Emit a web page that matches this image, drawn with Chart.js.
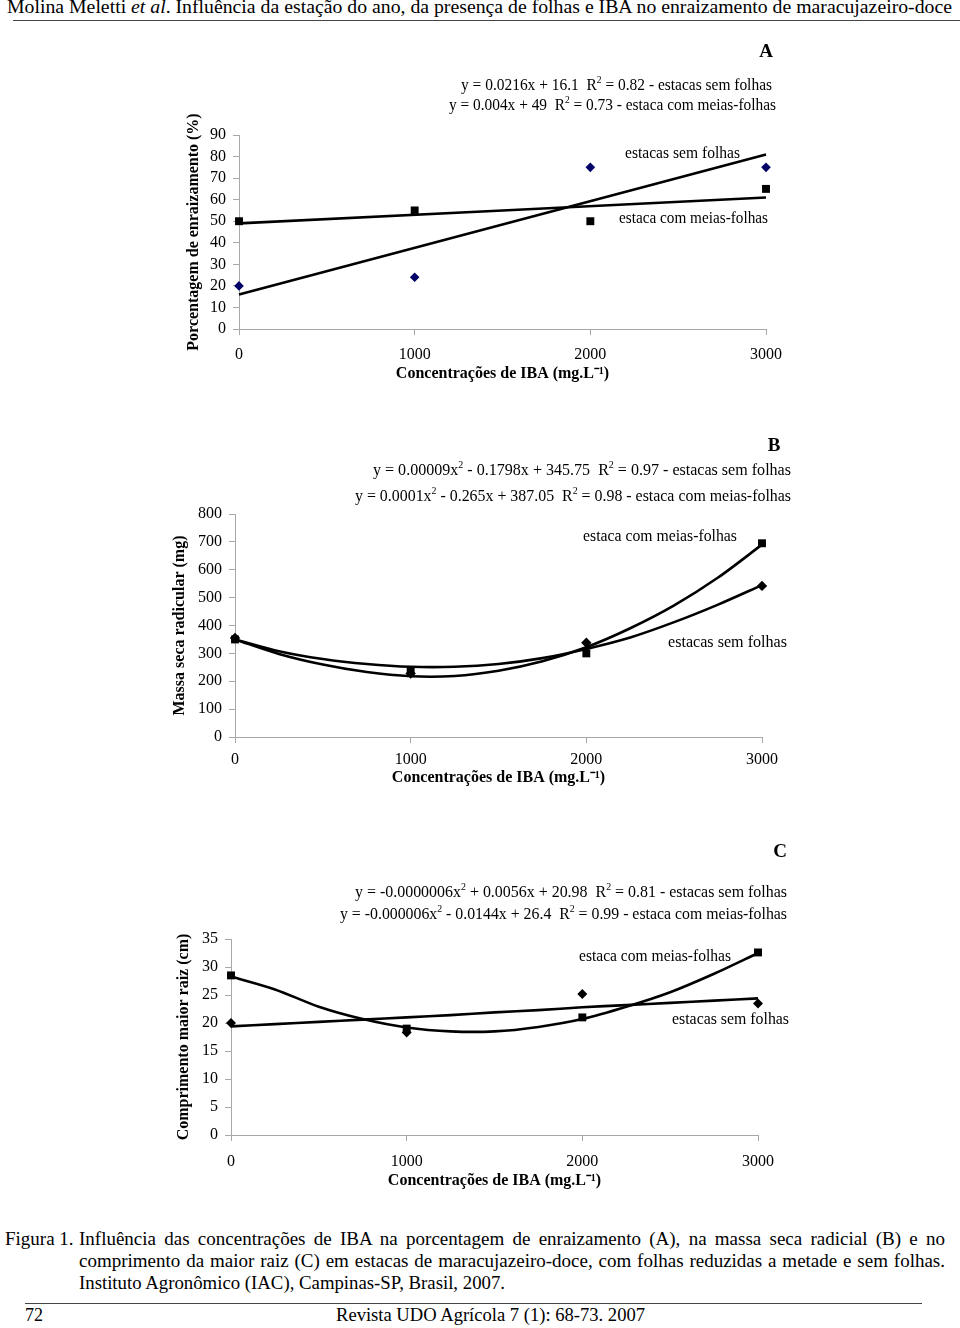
<!DOCTYPE html>
<html lang="pt">
<head>
<meta charset="utf-8">
<title>Figura 1</title>
<script src="https://cdn.jsdelivr.net/npm/chart.js@4.4.1/dist/chart.umd.min.js"></script>
<style>
  body { margin: 0; width: 960px; height: 1328px; background: #fff; position: relative; overflow: hidden;
         font-family: "Liberation Serif", "Times New Roman", serif; color: #000; }
  .txt { position: absolute; white-space: nowrap; line-height: 1; transform-origin: 0 0; }
  .just { position: absolute; line-height: 1; text-align: justify; text-align-last: justify; white-space: nowrap; }
  .linha { position: absolute; height: 0; border-top: 1px solid #444; }
  canvas { position: absolute; left: 0; }
</style>
</head>
<body>
<div class="txt" data-w="945" style="left:7px; top:-2px; font-size:18px;">Molina Meletti <i>et al</i>. Influência da estação do ano, da presença de folhas e IBA no enraizamento de maracujazeiro-doce</div>
<div class="linha" style="left:13px; width:947px; top:20px;"></div>

<canvas id="graficoA" width="960" height="370" style="top:30px;"></canvas>
<canvas id="graficoB" width="960" height="380" style="top:420px;"></canvas>
<canvas id="graficoC" width="960" height="370" style="top:830px;"></canvas>

<div class="txt" style="left:5px; top:1229px; font-size:19px;">Figura 1.</div>
<div class="just" style="left:79px; width:866px; top:1229px; font-size:19px;">Influência das concentrações de IBA na porcentagem de enraizamento (A), na massa seca radicial (B) e no</div>
<div class="just" style="left:79px; width:866px; top:1251px; font-size:19px;">comprimento da maior raiz (C) em estacas de maracujazeiro-doce, com folhas reduzidas a metade e sem folhas.</div>
<div class="txt" data-w="426" style="left:79px; top:1273px; font-size:19px;">Instituto Agronômico (IAC), Campinas-SP, Brasil, 2007.</div>
<div class="linha" style="left:25px; width:897px; top:1303px;"></div>
<div class="txt" style="left:25px; top:1306px; font-size:18px;">72</div>
<div class="txt" data-w="309" style="left:336px; top:1306px; font-size:18px;">Revista UDO Agrícola 7 (1): 68-73. 2007</div>

<script>
// concentracoes de IBA (mg.L-1)
const concentracoes = [0, 1000, 2000, 3000];
const ticksX = [0, 1000, 2000, 3000];

// A - porcentagem de enraizamento (%)
const enraizSemFolhas = [20, 24, 75, 75];
const enraizMeiasFolhas = [50, 55, 50, 65];
const tendXLinear = [0, 3000];
const tendEnraizSem = [16, 81];
const tendEnraizMeias = [49, 61];

// B - massa seca radicular (mg)
const massaSemFolhas = [355, 228, 338, 542];
const massaMeiasFolhas = [350, 240, 300, 695];
const tendXCurva = [0, 250, 500, 750, 1000, 1250, 1500, 1750, 2000, 2250, 2500, 2750, 3000];
const tendMassaSem = [350, 308, 280, 262, 252, 252, 262, 283, 316, 357, 412, 475, 545];
const tendMassaMeias = [350, 298, 260, 233, 218, 219, 238, 272, 322, 390, 472, 572, 690];

// C - comprimento da maior raiz (cm)
const comprSemFolhas = [20, 18.3, 25.2, 23.5];
const comprMeiasFolhas = [28.5, 19, 21, 32.6];
const tendComprSem = [19.4, 19.8, 20.2, 20.6, 21.0, 21.4, 21.9, 22.3, 22.8, 23.2, 23.6, 24.0, 24.4];
const tendComprMeias = [28.3, 26.0, 22.9, 20.7, 19.2, 18.5, 18.5, 19.3, 20.7, 22.9, 25.5, 28.8, 32.5];

// ajusta largura dos textos da pagina
document.querySelectorAll('[data-w]').forEach(el => {
  const w = el.getBoundingClientRect().width;
  el.style.transform = 'scaleX(' + (el.dataset.w / w) + ')';
});

const fonteSerif = '"Liberation Serif", "Times New Roman", serif';
Chart.defaults.font.family = fonteSerif;
Chart.defaults.color = '#000';

function pares(xs, ys) {
  return xs.map((x, i) => ({ x: x, y: ys[i] }));
}

// textos soltos (equacoes, rotulos das curvas, letra do painel)
function anotacoes(itens) {
  return {
    id: 'anotacoes',
    afterDraw(chart) {
      const ctx = chart.ctx;
      itens.forEach(it => {
        const fonte = (sup) => (it.negrito ? 'bold ' : '') + (sup ? it.tam * 0.62 : it.tam) + 'px ' + fonteSerif;
        let total = 0;
        it.partes.forEach(p => {
          const sup = Array.isArray(p);
          ctx.font = fonte(sup);
          total += ctx.measureText(sup ? p[0] : p).width;
        });
        const sx = it.largura ? it.largura / total : 1;
        let x0 = it.x;
        if (it.alinhar === 'right') x0 -= total * sx;
        if (it.alinhar === 'center') x0 -= total * sx / 2;
        ctx.save();
        ctx.fillStyle = '#000';
        ctx.textBaseline = 'middle';
        ctx.textAlign = 'left';
        ctx.translate(x0, it.y);
        ctx.scale(sx, 1);
        let x = 0;
        it.partes.forEach(p => {
          const sup = Array.isArray(p);
          const t = sup ? p[0] : p;
          ctx.font = fonte(sup);
          ctx.fillText(t, x, sup ? -it.tam * 0.32 : 0);
          x += ctx.measureText(t).width;
        });
        ctx.restore();
      });
    }
  };
}

function eixoCinza() {
  return {
    grid: { drawOnChartArea: false, drawTicks: true, tickLength: 6, color: '#a8a8a8', lineWidth: 1 },
    border: { color: '#a8a8a8', width: 1 }
  };
}

function opcoes(cfg) {
  return {
    responsive: false,
    animation: false,
    layout: { padding: { left: cfg.padLeft, right: cfg.padRight, top: cfg.padTop, bottom: 0 } },
    plugins: { legend: { display: false }, tooltip: { enabled: false } },
    scales: {
      x: Object.assign(eixoCinza(), {
        type: 'linear', min: 0, max: 3000,
        afterBuildTicks: s => { s.ticks = ticksX.map(v => ({ value: v })); },
        afterFit: s => { s.height = cfg.alturaX; },
        ticks: { padding: cfg.padTickX, autoSkip: false, maxRotation: 0, font: { size: 16 }, color: '#000',
                 callback: v => String(v) },
        title: { display: true, text: 'Concentrações de IBA (mg.L⁻¹)', font: { size: 16, weight: 'bold' },
                 color: '#000', padding: { top: 0, bottom: cfg.padTituloX } }
      }),
      y: Object.assign(eixoCinza(), {
        min: 0, max: cfg.maxY,
        afterFit: s => { s.width = cfg.larguraY; },
        ticks: { stepSize: cfg.passoY, autoSkip: false, padding: 7, font: { size: 16 }, color: '#000',
                 callback: v => String(v) },
        title: { display: true, text: cfg.tituloY, font: { size: 16, weight: 'bold' }, color: '#000',
                 padding: { top: 3, bottom: 0 } }
      })
    }
  };
}

function pontos(xs, ys, estilo, cor, raio) {
  return { data: pares(xs, ys), showLine: false, pointStyle: estilo, pointRadius: raio,
           pointBackgroundColor: cor, pointBorderColor: cor, pointBorderWidth: 0, clip: false, order: 0 };
}
function tendencia(xs, ys) {
  return { data: pares(xs, ys), showLine: true, pointRadius: 0, borderColor: '#000',
           borderWidth: 2.6, tension: 0.3, fill: false, clip: false, order: 1 };
}

// Grafico A
new Chart(document.getElementById('graficoA'), {
  type: 'scatter',
  data: {
    datasets: [
      pontos(concentracoes, enraizSemFolhas, 'rectRot', '#000066', 4.8),
      pontos(concentracoes, enraizMeiasFolhas, 'rect', '#000', 5.6),
      tendencia(tendXLinear, tendEnraizSem),
      tendencia(tendXLinear, tendEnraizMeias)
    ]
  },
  options: opcoes({ padLeft: 181, padRight: 194, padTop: 105, alturaX: 71, larguraY: 58,
                    padTickX: 10, padTituloX: 17, maxY: 90, passoY: 10,
                    tituloY: 'Porcentagem de enraizamento (%)' }),
  plugins: [anotacoes([
    { partes: ['A'], x: 766, y: 22, alinhar: 'center', tam: 19, negrito: true },
    { partes: ['y = 0.0216x + 16.1  R', ['2'], ' = 0.82 - estacas sem folhas'], x: 772, y: 56, alinhar: 'right', tam: 16, largura: 311 },
    { partes: ['y = 0.004x + 49  R', ['2'], ' = 0.73 - estaca com meias-folhas'], x: 776, y: 76, alinhar: 'right', tam: 16, largura: 327 },
    { partes: ['estacas sem folhas'], x: 625, y: 124, tam: 16, largura: 115 },
    { partes: ['estaca com meias-folhas'], x: 619, y: 189, tam: 16, largura: 149 }
  ])]
});

// Grafico B
new Chart(document.getElementById('graficoB'), {
  type: 'scatter',
  data: {
    datasets: [
      pontos(concentracoes, massaSemFolhas, 'rectRot', '#000', 5.2),
      pontos(concentracoes, massaMeiasFolhas, 'rect', '#000', 5.6),
      tendencia(tendXCurva, tendMassaSem),
      tendencia(tendXCurva, tendMassaMeias)
    ]
  },
  options: opcoes({ padLeft: 167, padRight: 198, padTop: 94, alturaX: 63, larguraY: 68,
                    padTickX: 7, padTituloX: 13, maxY: 800, passoY: 100,
                    tituloY: 'Massa seca radicular (mg)' }),
  plugins: [anotacoes([
    { partes: ['B'], x: 774, y: 26, alinhar: 'center', tam: 19, negrito: true },
    { partes: ['y = 0.00009x', ['2'], ' - 0.1798x + 345.75  R', ['2'], ' = 0.97 - estacas sem folhas'], x: 791, y: 51, alinhar: 'right', tam: 16, largura: 418 },
    { partes: ['y = 0.0001x', ['2'], ' - 0.265x + 387.05  R', ['2'], ' = 0.98 - estaca com meias-folhas'], x: 791, y: 77, alinhar: 'right', tam: 16, largura: 436 },
    { partes: ['estaca com meias-folhas'], x: 583, y: 117, tam: 16, largura: 154 },
    { partes: ['estacas sem folhas'], x: 668, y: 223, tam: 16, largura: 119 }
  ])]
});

// Grafico C
new Chart(document.getElementById('graficoC'), {
  type: 'scatter',
  data: {
    datasets: [
      pontos(concentracoes, comprSemFolhas, 'rectRot', '#000', 5),
      pontos(concentracoes, comprMeiasFolhas, 'rect', '#000', 5.6),
      tendencia(tendXCurva, tendComprSem),
      tendencia(tendXCurva, tendComprMeias)
    ]
  },
  options: opcoes({ padLeft: 171, padRight: 202, padTop: 109, alturaX: 65, larguraY: 60,
                    padTickX: 11, padTituloX: 10, maxY: 35, passoY: 5,
                    tituloY: 'Comprimento maior raiz (cm)' }),
  plugins: [anotacoes([
    { partes: ['C'], x: 780, y: 22, alinhar: 'center', tam: 19, negrito: true },
    { partes: ['y = -0.0000006x', ['2'], ' + 0.0056x + 20.98  R', ['2'], ' = 0.81 - estacas sem folhas'], x: 787, y: 63, alinhar: 'right', tam: 16, largura: 432 },
    { partes: ['y = -0.000006x', ['2'], ' - 0.0144x + 26.4  R', ['2'], ' = 0.99 - estaca com meias-folhas'], x: 787, y: 85, alinhar: 'right', tam: 16, largura: 447 },
    { partes: ['estaca com meias-folhas'], x: 579, y: 127, tam: 16, largura: 152 },
    { partes: ['estacas sem folhas'], x: 672, y: 190, tam: 16, largura: 117 }
  ])]
});
</script>
</body>
</html>
